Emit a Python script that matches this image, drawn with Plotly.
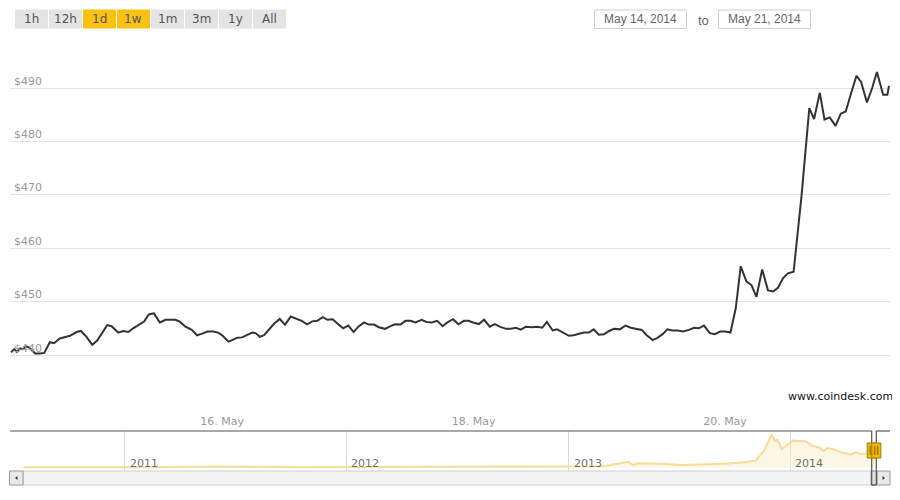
import pandas as pd
import plotly.graph_objects as go

# ---------------- data ----------------
START = "2014-05-14 07:30"
END = "2014-05-21 07:30"
# hours after START, and BPI price (USD)
hours = [0.2, 0.8, 1.3, 1.9, 2.4, 3.05, 3.7, 4.45, 4.8, 5.7, 6.55, 7.6, 8.4, 9.5, 10.5, 11.45,
         12.7, 13.55, 14.6, 15.7, 16.65, 17.6, 18.55, 19.4, 20.65, 21.6, 22.6, 23.5, 24.7, 25.6,
         26.5, 27.5, 28.6, 29.7, 30.7, 31.6, 32.4, 33.5, 34.7, 35.7, 36.7, 37.7, 38.8, 39.75,
         40.6, 41.7, 42.4, 43.4, 44.3, 45.3, 46.25, 46.9, 47.7, 48.5, 49.4, 50.45, 51.5, 52.5,
         53.6, 54.6, 55.7, 56.7, 57.7, 58.65, 59.7, 60.6, 61.6, 62.5, 63.6, 64.6, 65.6, 66.5,
         67.6, 68.5, 69.5, 70.4, 71.6, 72.65, 73.5, 74.55, 75.5, 76.5, 77.4, 78.6, 79.5, 80.5,
         81.55, 82.6, 83.5, 84.6, 85.6, 86.65, 87.5, 88.4, 89.5, 90.5, 91.6, 92.55, 93.5, 94.7,
         95.6, 96.6, 97.5, 98.5, 99.6, 100.6, 101.6, 102.5, 103.6, 104.45, 105.6, 106.7, 107.6,
         108.6, 109.55, 110.5, 111.45, 112.4, 113.4, 114.4, 115.3, 116.4, 117.5, 118.5, 119.6,
         120.6, 121.5, 122.7, 123.6, 124.6, 125.5, 126.5, 127.5, 128.5, 129.6, 130.6, 131.5,
         132.5, 133.6, 134.55, 135.6, 136.6, 137.55, 138.55, 139.5, 140.6, 141.55, 142.5, 143.6,
         144.7, 145.7, 146.6, 147.6, 148.5, 149.6, 151.1, 152.6, 153.5, 154.6, 155.5, 156.5,
         157.6, 158.6, 159.55, 160.6, 161.6, 162.5, 163.6, 164.6, 165.5, 166.7, 167.5, 167.8]
price = [440.5, 441.1, 440.6, 441.25, 441.05, 441.6, 441.4, 440.6, 440.3, 440.3, 440.4, 442.4,
         442.2, 443.1, 443.3, 443.6, 444.3, 444.5, 443.4, 441.9, 442.7, 444.1, 445.6, 445.4,
         444.2, 444.5, 444.3, 445.0, 445.75, 446.25, 447.6, 447.8, 446.1, 446.6, 446.6, 446.6,
         446.25, 445.3, 444.7, 443.7, 444.0, 444.4, 444.4, 444.2, 443.6, 442.5, 442.8, 443.25,
         443.3, 443.75, 444.2, 444.1, 443.4, 443.7, 444.8, 445.9, 446.75, 445.7, 447.2, 446.8,
         446.4, 445.75, 446.3, 446.4, 447.1, 446.6, 446.7, 445.9, 445.0, 445.5, 444.3, 445.3,
         446.1, 445.7, 445.7, 445.2, 444.9, 445.4, 445.75, 445.7, 446.4, 446.4, 446.1, 446.6,
         446.2, 446.1, 446.4, 445.4, 446.1, 446.7, 445.75, 446.4, 446.4, 446.1, 445.8, 446.6,
         445.3, 445.8, 445.3, 444.9, 444.9, 445.1, 444.75, 445.3, 445.2, 445.3, 445.1, 446.2,
         444.6, 444.8, 444.2, 443.6, 443.7, 444.0, 444.2, 444.2, 444.8, 443.8, 443.9, 444.5,
         444.9, 444.8, 445.5, 445.1, 444.9, 444.7, 443.75, 442.8, 443.2, 443.9, 444.8, 444.6,
         444.6, 444.4, 444.7, 445.1, 445.0, 445.5, 444.1, 443.9, 444.4, 444.4, 444.2, 448.75,
         456.6, 453.75, 453.1, 450.9, 456.0, 452.1, 451.9, 452.6, 454.4, 455.3, 455.6, 469.7,
         486.25, 484.2, 489.1, 484.1, 484.5, 482.9, 485.2, 485.6, 489.1, 492.3, 491.1, 487.3,
         490.0, 493.0, 488.75, 488.75, 490.4]

y_ticks = [440, 450, 460, 470, 480, 490]
x_tick_dates = ["2014-05-16", "2014-05-18", "2014-05-20"]
x_tick_labels = ["16. May", "18. May", "20. May"]

# navigator: full price history
nav_dates = ["2010-07-18", "2010-11-01", "2011-02-10", "2011-06-08", "2011-07-15", "2011-10-20",
             "2012-01-10", "2012-05-01", "2012-08-15", "2012-12-31", "2013-02-28", "2013-04-09",
             "2013-04-16", "2013-04-25", "2013-06-01", "2013-07-05", "2013-08-15", "2013-09-15",
             "2013-10-17", "2013-11-05", "2013-11-19", "2013-12-01", "2013-12-07", "2013-12-11",
             "2013-12-18", "2013-12-26", "2014-01-05", "2014-01-26", "2014-02-05", "2014-02-18",
             "2014-02-25", "2014-03-03", "2014-03-12", "2014-03-26", "2014-04-10", "2014-04-18",
             "2014-04-26", "2014-05-10", "2014-05-21"]
nav_price = [0.09, 0.2, 1.0, 29, 14, 2.5, 7, 5, 12, 13.5, 33, 190, 75, 140, 125, 75, 105, 125,
             175, 230, 600, 1140, 920, 960, 630, 760, 930, 900, 760, 680, 560, 680, 630, 520,
             440, 520, 460, 480, 490]
nav_years = ["2011-01-01", "2012-01-01", "2013-01-01", "2014-01-01"]
nav_year_labels = ["2011", "2012", "2013", "2014"]

buttons = ["1h", "12h", "1d", "1w", "1m", "3m", "1y", "All"]
active_buttons = ["1d", "1w"]
date_inputs = ["May 14, 2014", "May 21, 2014"]

# ---------------- helpers ----------------
# page body has an 8px margin: figure occupies window pixels 8..900 x 8..500
OFF = 8
W, H = 900 - OFF, 500 - OFF
def fx(p):
    return (p - OFF) / W
def fy(p):
    return 1 - (p - OFF) / H

start = pd.Timestamp(START)
times = start + pd.to_timedelta(hours, unit="h")

FONT = "DejaVu Sans"
fig = go.Figure()

fig.add_trace(go.Scatter(x=times, y=price, mode="lines",
                         line=dict(color="#333333", width=2),
                         xaxis="x", yaxis="y", hoverinfo="skip"))
fig.add_trace(go.Scatter(x=pd.to_datetime(nav_dates), y=nav_price, mode="lines",
                         fill="tozeroy", fillcolor="rgba(250,236,196,0.45)",
                         line=dict(color="#F6DC96", width=2),
                         xaxis="x2", yaxis="y2", hoverinfo="skip"))

# main plot geometry (window pixels)
left, right = 10, 890
top_px, bot_px = 34.07, 405
ppd = 5.34  # pixels per dollar
y_top = 500.1
y_bot = y_top - (bot_px - top_px) / ppd

fig.update_layout(
    width=W, height=H,
    margin=dict(l=0, r=0, t=0, b=0),
    paper_bgcolor="white", plot_bgcolor="white",
    showlegend=False,
    xaxis=dict(domain=[fx(left), fx(right)], range=[START, END], type="date",
               showgrid=False, zeroline=False, showline=False,
               tickvals=pd.to_datetime(x_tick_dates), ticktext=x_tick_labels,
               ticks="outside", ticklen=6, tickcolor="rgba(0,0,0,0)",
               tickfont=dict(family=FONT, size=11, color="#999999")),
    yaxis=dict(domain=[fy(bot_px), fy(top_px)], range=[y_bot, y_top],
               tickvals=y_ticks + [500], showticklabels=False,
               showgrid=True, gridcolor="#E3E3E3", gridwidth=1,
               zeroline=False, showline=False),
    xaxis2=dict(domain=[fx(left), fx(right)], anchor="y2",
                range=["2010-06-26", "2014-06-14"], type="date",
                tickvals=pd.to_datetime(nav_years), showticklabels=False,
                showgrid=True, gridcolor="#DCDCDC", zeroline=False, showline=False),
    yaxis2=dict(domain=[fy(470.5), fy(431)], anchor="x2", range=[-115, 1265],
                showgrid=False, showticklabels=False, zeroline=False, showline=False),
)

shapes = []
annotations = []

# y-axis labels above grid lines
for v in y_ticks:
    annotations.append(dict(x=fx(12), xref="paper", y=v, yref="y", yshift=7,
                            text="$%d" % v, showarrow=False, xanchor="left", yanchor="middle",
                            font=dict(family=FONT, size=11, color="#999999")))

# navigator year labels
for d, lab in zip(nav_years, nav_year_labels):
    annotations.append(dict(x=d, xref="x2", y=fy(463.5), yref="paper", xshift=3,
                            text=lab, showarrow=False, xanchor="left", yanchor="middle",
                            font=dict(family=FONT, size=11, color="#707070")))

# watermark
annotations.append(dict(x=fx(895), y=fy(396.5), xref="paper", yref="paper",
                        text="www.coindesk.com", showarrow=False, xanchor="right",
                        yanchor="middle", font=dict(family=FONT, size=11, color="#111111")))

# range selector buttons
for i, b in enumerate(buttons):
    x0 = 15 + i * 34
    x1 = x0 + 33
    col = "#F9C113" if b in active_buttons else "#E4E4E4"
    shapes.append(dict(type="rect", xref="paper", yref="paper",
                       x0=fx(x0), x1=fx(x1), y0=fy(9.5), y1=fy(28.5),
                       fillcolor=col, line=dict(width=0), layer="above"))
    annotations.append(dict(x=fx((x0 + x1) / 2), y=fy(19.5), xref="paper", yref="paper",
                            text=b, showarrow=False, xanchor="center", yanchor="middle",
                            font=dict(family=FONT, size=12, color="#555555")))

# date input boxes
for (x0, x1), txt in zip([(594.5, 686.5), (718.5, 810.5)], date_inputs):
    shapes.append(dict(type="rect", xref="paper", yref="paper",
                       x0=fx(x0), x1=fx(x1), y0=fy(10), y1=fy(28.5),
                       fillcolor="white", line=dict(color="#D0D0D0", width=1)))
    annotations.append(dict(x=fx(x0 + 7), y=fy(19.5), xref="paper", yref="paper",
                            text=txt, showarrow=False, xanchor="left", yanchor="middle",
                            font=dict(family="Liberation Sans", size=12, color="#666666")))
annotations.append(dict(x=fx(703.5), y=fy(20), xref="paper", yref="paper",
                        text="to", showarrow=False, xanchor="center", yanchor="middle",
                        font=dict(family="Liberation Sans", size=13, color="#666666")))

# scrollbar
shapes.append(dict(type="rect", xref="paper", yref="paper",
                   x0=fx(23), x1=fx(877), y0=fy(485), y1=fy(471),
                   fillcolor="#F3F3F3", line=dict(color="#CFCFCF", width=1)))
for x0, x1 in [(9.5, 23), (877, 890)]:
    shapes.append(dict(type="rect", xref="paper", yref="paper",
                       x0=fx(x0), x1=fx(x1), y0=fy(485), y1=fy(471),
                       fillcolor="#E9E9E9", line=dict(color="#9A9A9A", width=1)))
shapes.append(dict(type="rect", xref="paper", yref="paper",
                   x0=fx(871), x1=fx(877), y0=fy(485), y1=fy(471),
                   fillcolor="#E0E0E0", line=dict(color="#9A9A9A", width=1)))
# arrows
shapes.append(dict(type="path", xref="paper", yref="paper",
                   path="M %f %f L %f %f L %f %f Z" % (fx(15), fy(478), fx(17.5), fy(476), fx(17.5), fy(480)),
                   fillcolor="#333333", line=dict(width=0)))
shapes.append(dict(type="path", xref="paper", yref="paper",
                   path="M %f %f L %f %f L %f %f Z" % (fx(885), fy(478), fx(882.5), fy(476), fx(882.5), fy(480)),
                   fillcolor="#333333", line=dict(width=0)))

# navigator outline
hl, hr = 871.7, 876.3
outline = [(10, 431, hl, 431), (hl, 431, hl, 485), (hl, 485, hr, 485), (hr, 485, hr, 431), (hr, 431, 890, 431)]
for x0, y0, x1, y1 in outline:
    shapes.append(dict(type="line", xref="paper", yref="paper",
                       x0=fx(x0), y0=fy(y0), x1=fx(x1), y1=fy(y1),
                       line=dict(color="#555555", width=1.2)))
# handles
for hx in [hl, hr]:
    shapes.append(dict(type="rect", xref="paper", yref="paper",
                       x0=fx(hx - 4.5), x1=fx(hx + 4.5), y0=fy(458), y1=fy(443),
                       fillcolor="#F4B800", line=dict(color="#9C7A00", width=1)))
    for dx in (-1.5, 1.5):
        shapes.append(dict(type="line", xref="paper", yref="paper",
                           x0=fx(hx + dx), x1=fx(hx + dx), y0=fy(446), y1=fy(455),
                           line=dict(color="#7A5E00", width=1)))

fig.update_layout(shapes=shapes, annotations=annotations)
fig.write_html("out.html")
